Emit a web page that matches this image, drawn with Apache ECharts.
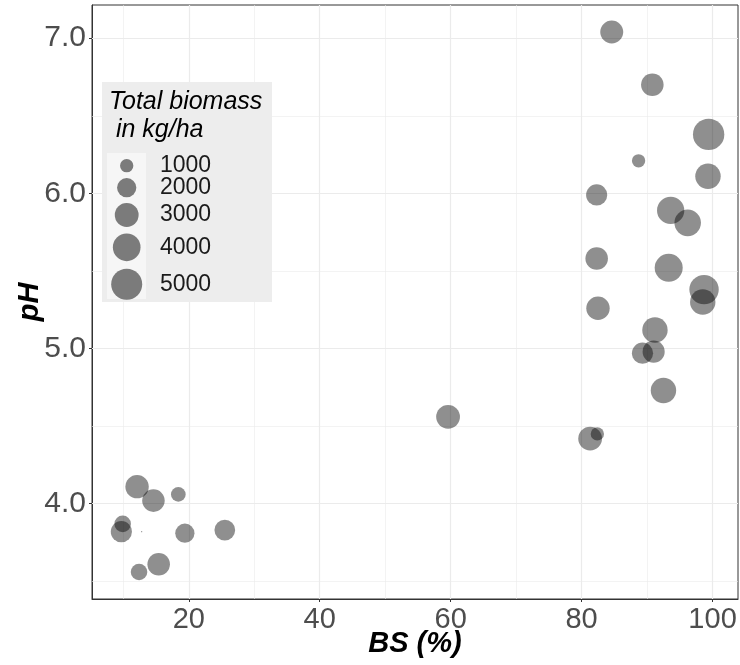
<!DOCTYPE html>
<html>
<head>
<meta charset="utf-8">
<script src="https://cdn.jsdelivr.net/npm/echarts@6/dist/echarts.min.js"></script>
<style>
html,body{margin:0;padding:0;background:#fff;}
#chart{width:740px;height:665px;}
</style>
</head>
<body>
<div id="chart"></div>
<script>
// ---- data ----
const bsValues = [84.6, 90.8, 99.4, 88.7, 99.3, 82.3, 93.6, 96.2, 82.3, 93.3, 98.7, 98.5, 82.5,
                  91.2, 89.3, 91.0, 92.5, 81.3, 82.4, 59.6,
                  12.1, 14.6, 18.4, 9.9, 9.7, 12.8, 19.4, 25.5, 12.4, 15.4];
const phValues = [7.04, 6.70, 6.38, 6.21, 6.11, 5.99, 5.89, 5.81, 5.58, 5.52, 5.38, 5.30, 5.26,
                  5.12, 4.97, 4.98, 4.73, 4.42, 4.45, 4.56,
                  4.11, 4.02, 4.06, 3.87, 3.82, 3.82, 3.81, 3.83, 3.56, 3.61];
const biomassValues = [2800, 2700, 5100, 1000, 3400, 2400, 3900, 3700, 2700, 4100, 4500, 3400, 2900,
                       3400, 2400, 2600, 3400, 3000, 1000, 3000,
                       2900, 2700, 1200, 1500, 2400, 25, 2000, 2300, 1500, 2700];
const legendValues = [1000, 2000, 3000, 4000, 5000];
const xTickValues = [20, 40, 60, 80, 100];
const xMinorValues = [10, 30, 50, 70, 90];
const yTickValues = [4, 5, 6, 7];
const yMinorValues = [3.5, 4.5, 5.5, 6.5];
const legendTitle = ['Total biomass', ' in kg/ha'];

// ---- helpers ----
function sizeOf(v) { return Math.max(1.2, 0.453 * Math.sqrt(v) - 1); }
function expand(arr) {
  const mn = Math.min(...arr), mx = Math.max(...arr), r = mx - mn;
  return [mn - 0.05 * r, mx + 0.05 * r];
}
const xExt = expand(bsValues);
const yExt = expand(phValues);
const points = bsValues.map((x, i) => [x, phValues[i], biomassValues[i]]);

const FONT = '"Liberation Sans", Arial, sans-serif';
const gridColor = '#ebebeb';

const markData = []
  .concat(xMinorValues.map(v => ({ xAxis: v, lineStyle: { width: 0.6 } })))
  .concat(yMinorValues.map(v => ({ yAxis: v, lineStyle: { width: 0.6 } })))
  .concat(xTickValues.map(v => ({ xAxis: v, lineStyle: { width: 1.2 } })))
  .concat(yTickValues.map(v => ({ yAxis: v, lineStyle: { width: 1.2 } })));

// legend graphics
const legendCy = [165.7, 187.7, 215, 247.3, 284.3];
const Z = 200;
const legendEls = [
  { type: 'rect', z: Z, shape: { x: 102, y: 82, width: 170, height: 220 }, style: { fill: '#ededed' } },
  { type: 'rect', z: Z + 1, shape: { x: 107, y: 153, width: 39, height: 146 }, style: { fill: '#f6f6f6' } },
  { type: 'text', z: Z + 2, x: 109, y: 101.7, style: { text: legendTitle[0], font: 'italic 25px ' + FONT, fill: '#000', verticalAlign: 'middle' } },
  { type: 'text', z: Z + 2, x: 109, y: 130, style: { text: legendTitle[1], font: 'italic 25px ' + FONT, fill: '#000', verticalAlign: 'middle' } }
];
legendValues.forEach((v, i) => {
  legendEls.push({ type: 'circle', z: Z + 2, shape: { cx: 126.7, cy: legendCy[i], r: sizeOf(v) / 2 }, style: { fill: 'rgba(0,0,0,0.5)' } });
  legendEls.push({ type: 'text', z: Z + 2, x: 160, y: legendCy[i], style: { text: String(v), font: '23px ' + FONT, fill: '#1a1a1a', verticalAlign: 'middle' } });
});

const chart = echarts.init(document.getElementById('chart'), null, { renderer: 'canvas' });
chart.setOption({
  animation: false,
  backgroundColor: '#fff',
  grid: { left: 92, right: 2, top: 5, bottom: 66, show: true, borderColor: '#333', borderWidth: 1,
          backgroundColor: '#fff', containLabel: false, outerBoundsMode: 'none' },
  xAxis: {
    type: 'value', min: xExt[0], max: xExt[1],
    name: 'BS (%)', nameLocation: 'middle', nameGap: 30, nameMoveOverlap: false,
    nameTextStyle: { fontFamily: FONT, fontSize: 29, fontWeight: 'bold', fontStyle: 'italic', color: '#000' },
    axisLine: { show: true, lineStyle: { color: '#333', width: 1 } },
    axisTick: { show: true, length: 3, lineStyle: { color: '#333' }, customValues: xTickValues },
    axisLabel: { fontFamily: FONT, fontSize: 29, color: '#4d4d4d', margin: 6, customValues: xTickValues,
      formatter: v => (xTickValues.indexOf(Math.round(v * 1000) / 1000) >= 0 ? String(v) : '') },
    splitLine: { show: false }
  },
  yAxis: {
    type: 'value', min: yExt[0], max: yExt[1],
    name: 'pH', nameLocation: 'middle', nameGap: 48, nameRotate: 90, nameMoveOverlap: false,
    nameTextStyle: { fontFamily: FONT, fontSize: 29, fontWeight: 'bold', fontStyle: 'italic', color: '#000' },
    axisLine: { show: true, lineStyle: { color: '#333', width: 1 } },
    axisTick: { show: true, length: 3, lineStyle: { color: '#333' }, customValues: yTickValues },
    axisLabel: { fontFamily: FONT, fontSize: 30, color: '#4d4d4d', margin: 6, customValues: yTickValues,
      formatter: v => (yTickValues.indexOf(Math.round(v * 1000) / 1000) >= 0 ? v.toFixed(1) : '') },
    splitLine: { show: false }
  },
  series: [
    {
      type: 'scatter', data: [], z: 1, silent: true,
      markLine: { silent: true, z: 1, symbol: ['none', 'none'], label: { show: false },
        lineStyle: { color: gridColor, type: 'solid' }, emphasis: { disabled: true }, data: markData }
    },
    {
      type: 'scatter', z: 10,
      data: points,
      symbolSize: d => sizeOf(d[2]),
      itemStyle: { color: 'rgba(0,0,0,0.55)', borderWidth: 0 }
    }
  ],
  graphic: legendEls
});
</script>
</body>
</html>
